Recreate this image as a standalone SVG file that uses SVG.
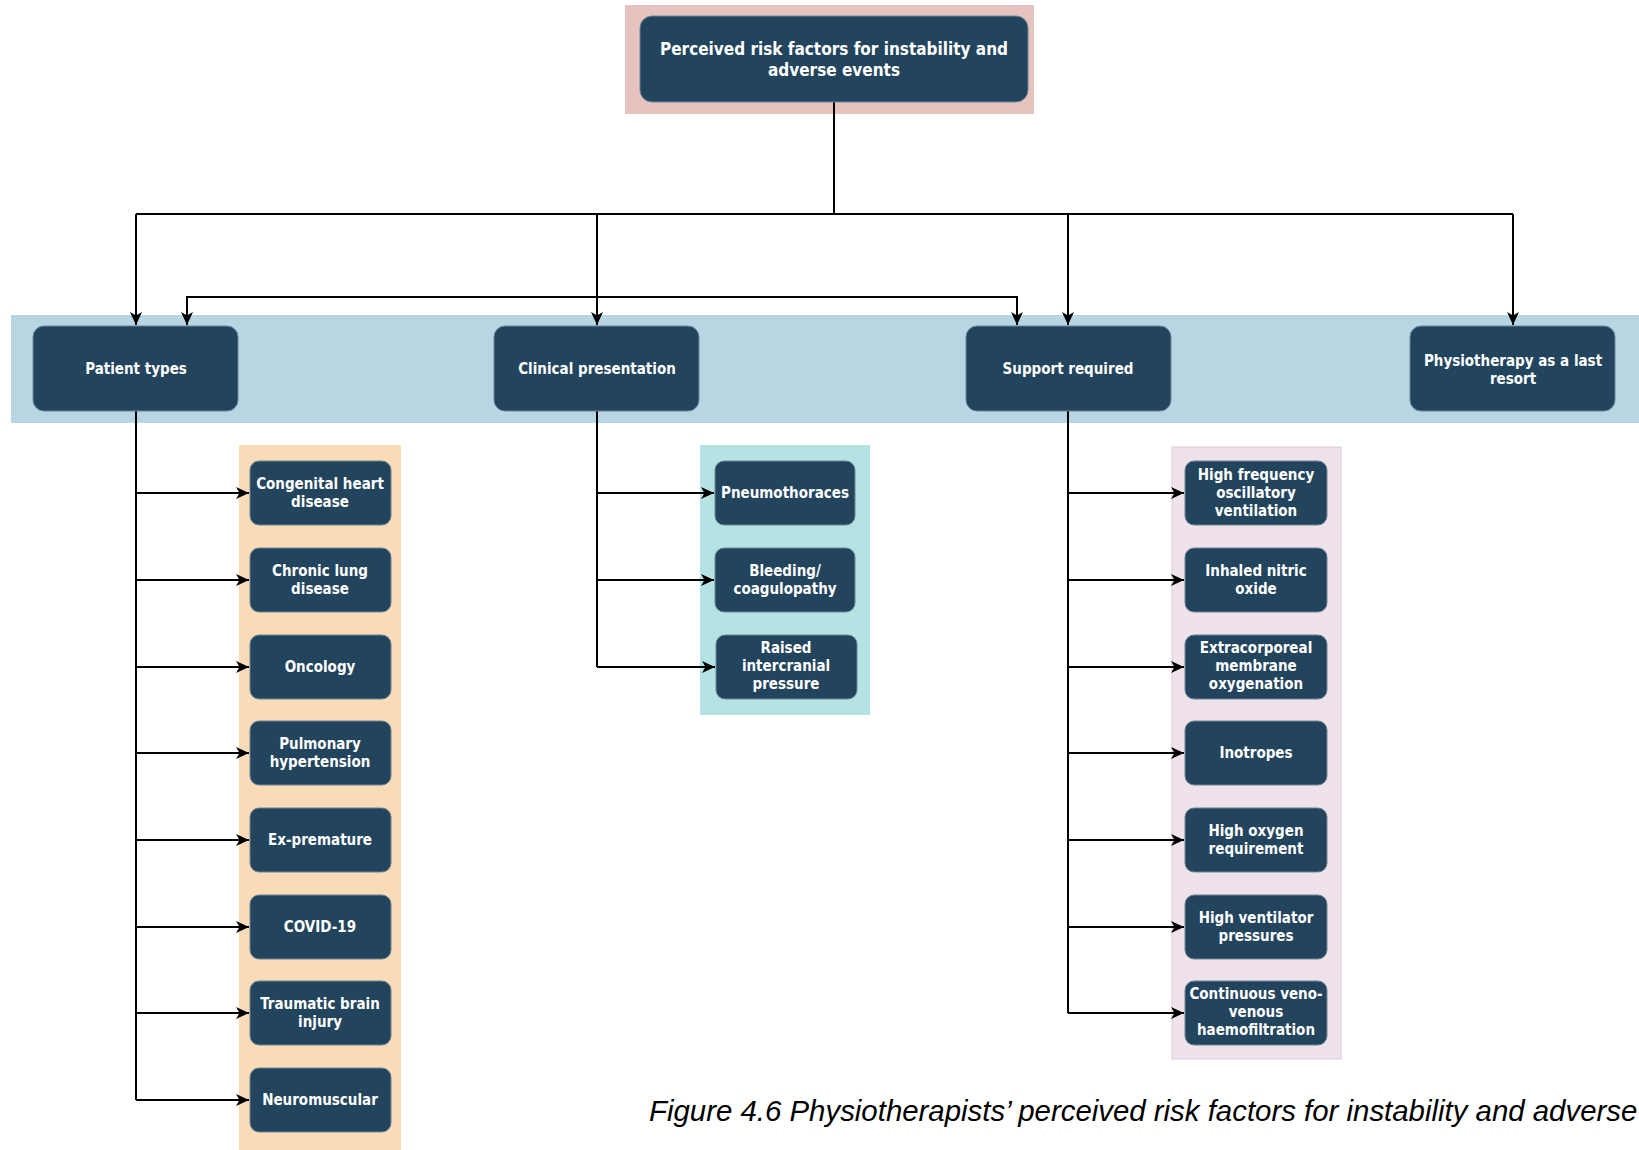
<svg xmlns="http://www.w3.org/2000/svg" width="1639" height="1150" viewBox="0 0 1639 1150">
<defs>
<style>
.n{fill:#23445D;stroke:#6f8596;stroke-width:1}
.t{font-family:"DejaVu Sans Condensed","DejaVu Sans",sans-serif;font-stretch:condensed;font-weight:bold;font-size:15px;fill:#ffffff;text-anchor:middle}
.tt{font-size:17px}
.c{fill:none;stroke:#000;stroke-width:2}
.cap{font-family:"Liberation Sans",Arial,sans-serif;font-style:italic;font-size:29.4px;fill:#000}
</style>
<marker id="ah" viewBox="0 0 13 12" refX="13" refY="6" markerWidth="13" markerHeight="12" markerUnits="userSpaceOnUse" orient="auto-start-reverse">
<path d="M0,0 L13,6 L0,12 L3.5,6 Z" fill="#000"/>
</marker>
</defs>
<rect width="1639" height="1150" fill="#fff"/>
<!-- panels -->
<g id="panels">
<rect x="625" y="5" width="409" height="109" fill="#E6C3BF"/>
<rect x="11" y="315" width="1628" height="108" fill="#B7D5E2"/>
<rect x="239" y="445" width="162" height="705" fill="#F9DBB8"/>
<rect x="700" y="445" width="170" height="270" fill="#B5E3E4"/>
<rect x="1172" y="447" width="169" height="612" fill="#F0E2EB" stroke="#DCC9DD" stroke-width="1"/>
</g>
<!-- connectors -->
<g id="connectors">
<path class="c" d="M834,102 V214"/>
<path class="c" d="M136,214 H1513"/>
<path class="c" d="M136,214 V325" marker-end="url(#ah)"/>
<path class="c" d="M597,214 V325" marker-end="url(#ah)"/>
<path class="c" d="M1068,214 V325" marker-end="url(#ah)"/>
<path class="c" d="M1513,214 V325" marker-end="url(#ah)"/>
<path class="c" d="M187,325 V297 H1017 V325" marker-start="url(#ah)" marker-end="url(#ah)"/>
<path class="c" d="M136,411 V1100"/>
<path class="c" d="M136,493 H249" marker-end="url(#ah)"/>
<path class="c" d="M136,580 H249" marker-end="url(#ah)"/>
<path class="c" d="M136,667 H249" marker-end="url(#ah)"/>
<path class="c" d="M136,753 H249" marker-end="url(#ah)"/>
<path class="c" d="M136,840 H249" marker-end="url(#ah)"/>
<path class="c" d="M136,927 H249" marker-end="url(#ah)"/>
<path class="c" d="M136,1013 H249" marker-end="url(#ah)"/>
<path class="c" d="M136,1100 H249" marker-end="url(#ah)"/>
<path class="c" d="M597,411 V667"/>
<path class="c" d="M597,493 H714" marker-end="url(#ah)"/>
<path class="c" d="M597,580 H714" marker-end="url(#ah)"/>
<path class="c" d="M597,667 H715" marker-end="url(#ah)"/>
<path class="c" d="M1068,411 V1013"/>
<path class="c" d="M1068,493 H1184" marker-end="url(#ah)"/>
<path class="c" d="M1068,580 H1184" marker-end="url(#ah)"/>
<path class="c" d="M1068,667 H1184" marker-end="url(#ah)"/>
<path class="c" d="M1068,753 H1184" marker-end="url(#ah)"/>
<path class="c" d="M1068,840 H1184" marker-end="url(#ah)"/>
<path class="c" d="M1068,927 H1184" marker-end="url(#ah)"/>
<path class="c" d="M1068,1013 H1184" marker-end="url(#ah)"/>
</g>
<!-- root -->
<g id="root">
<rect class="n" x="640" y="16" width="388" height="86" rx="12"/>
<text class="t tt" x="834" y="55">Perceived risk factors for instability and</text>
<text class="t tt" x="834" y="76">adverse events</text>
</g>
<!-- level 1 -->
<g id="patient-types"><rect class="n" x="33" y="326" width="205" height="85" rx="11"/><text class="t" x="136" y="374">Patient types</text></g>
<g id="clinical-presentation"><rect class="n" x="494" y="326" width="205" height="85" rx="11"/><text class="t" x="597" y="374">Clinical presentation</text></g>
<g id="support-required"><rect class="n" x="966" y="326" width="205" height="85" rx="11"/><text class="t" x="1068" y="374">Support required</text></g>
<g id="physio-last-resort"><rect class="n" x="1410" y="326" width="205" height="85" rx="11"/><text class="t" x="1513" y="366">Physiotherapy as a last</text><text class="t" x="1513" y="384">resort</text></g>
<!-- patient types leaves -->
<g id="congenital-heart"><rect class="n" x="250" y="461" width="141" height="64" rx="9"/><text class="t" x="320" y="489">Congenital heart</text><text class="t" x="320" y="507">disease</text></g>
<g id="chronic-lung"><rect class="n" x="250" y="548" width="141" height="64" rx="9"/><text class="t" x="320" y="576">Chronic lung</text><text class="t" x="320" y="594">disease</text></g>
<g id="oncology"><rect class="n" x="250" y="635" width="141" height="64" rx="9"/><text class="t" x="320" y="672">Oncology</text></g>
<g id="pulmonary-hypertension"><rect class="n" x="250" y="721" width="141" height="64" rx="9"/><text class="t" x="320" y="749">Pulmonary</text><text class="t" x="320" y="767">hypertension</text></g>
<g id="ex-premature"><rect class="n" x="250" y="808" width="141" height="64" rx="9"/><text class="t" x="320" y="845">Ex-premature</text></g>
<g id="covid-19"><rect class="n" x="250" y="895" width="141" height="64" rx="9"/><text class="t" x="320" y="932">COVID-19</text></g>
<g id="traumatic-brain"><rect class="n" x="250" y="981" width="141" height="64" rx="9"/><text class="t" x="320" y="1009">Traumatic brain</text><text class="t" x="320" y="1027">injury</text></g>
<g id="neuromuscular"><rect class="n" x="250" y="1068" width="141" height="64" rx="9"/><text class="t" x="320" y="1105">Neuromuscular</text></g>
<!-- clinical leaves -->
<g id="pneumothoraces"><rect class="n" x="715" y="461" width="140" height="64" rx="9"/><text class="t" x="785" y="498">Pneumothoraces</text></g>
<g id="bleeding"><rect class="n" x="715" y="548" width="140" height="64" rx="9"/><text class="t" x="785" y="576">Bleeding/</text><text class="t" x="785" y="594">coagulopathy</text></g>
<g id="raised-icp"><rect class="n" x="716" y="635" width="141" height="64" rx="9"/><text class="t" x="786" y="653">Raised</text><text class="t" x="786" y="671">intercranial</text><text class="t" x="786" y="689">pressure</text></g>
<!-- support leaves -->
<g id="hfov"><rect class="n" x="1185" y="461" width="142" height="64" rx="9"/><text class="t" x="1256" y="480">High frequency</text><text class="t" x="1256" y="498">oscillatory</text><text class="t" x="1256" y="516">ventilation</text></g>
<g id="ino"><rect class="n" x="1185" y="548" width="142" height="64" rx="9"/><text class="t" x="1256" y="576">Inhaled nitric</text><text class="t" x="1256" y="594">oxide</text></g>
<g id="ecmo"><rect class="n" x="1185" y="635" width="142" height="64" rx="9"/><text class="t" x="1256" y="653">Extracorporeal</text><text class="t" x="1256" y="671">membrane</text><text class="t" x="1256" y="689">oxygenation</text></g>
<g id="inotropes"><rect class="n" x="1185" y="721" width="142" height="64" rx="9"/><text class="t" x="1256" y="758">Inotropes</text></g>
<g id="high-oxygen"><rect class="n" x="1185" y="808" width="142" height="64" rx="9"/><text class="t" x="1256" y="836">High oxygen</text><text class="t" x="1256" y="854">requirement</text></g>
<g id="high-vent-pressures"><rect class="n" x="1185" y="895" width="142" height="64" rx="9"/><text class="t" x="1256" y="923">High ventilator</text><text class="t" x="1256" y="941">pressures</text></g>
<g id="cvvh"><rect class="n" x="1185" y="981" width="142" height="64" rx="9"/><text class="t" x="1256" y="999">Continuous veno-</text><text class="t" x="1256" y="1017">venous</text><text class="t" x="1256" y="1035">haemofiltration</text></g>
<!-- caption -->
<text class="cap" x="649" y="1121">Figure 4.6 Physiotherapists’ perceived risk factors for instability and adverse</text>
</svg>
